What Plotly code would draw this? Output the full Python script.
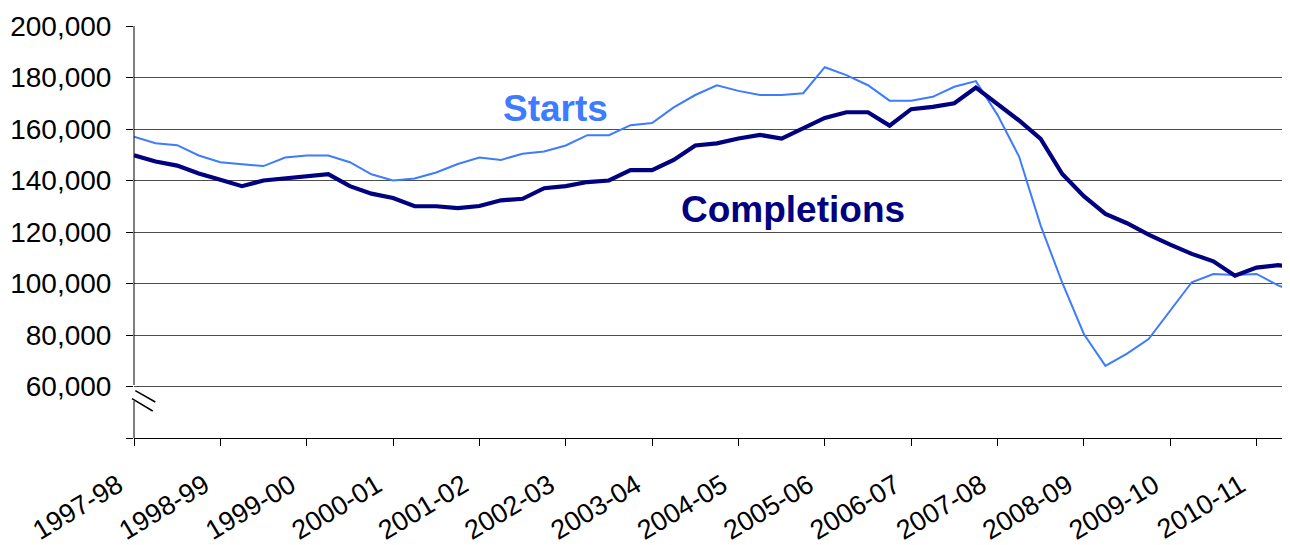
import plotly.graph_objects as go

years = ["1997-98", "1998-99", "1999-00", "2000-01", "2001-02", "2002-03", "2003-04",
         "2004-05", "2005-06", "2006-07", "2007-08", "2008-09", "2009-10", "2010-11", "2011-12"]
quarters = [f"{y} Q{q}" for y in years for q in range(1, 5)][:55]

starts = [157.0, 154.5, 153.7, 149.7, 147.1, 146.4, 145.6, 148.9, 149.7, 149.7,
          147.1, 142.4, 140.0, 140.8, 143.1, 146.4, 148.9, 148.0, 150.4, 151.3,
          153.6, 157.6, 157.6, 161.5, 162.3, 168.4, 173.2, 177.0, 174.8, 173.2,
          173.2, 173.9, 184.0, 180.9, 177.0, 171.0, 171.0, 172.5, 176.4, 178.6,
          165.5, 149.3, 122.5, 100.3, 80.4, 68.0, 72.8, 78.4, 89.4, 100.5,
          103.7, 103.3, 103.7, 99.3, 95.8]
completions = [149.8, 147.4, 145.8, 142.7, 140.3, 137.8, 140.0, 140.9, 141.7, 142.5,
               137.8, 134.9, 133.2, 130.0, 130.0, 129.3, 130.1, 132.3, 132.9, 137.0,
               137.8, 139.4, 140.0, 144.0, 144.0, 148.0, 153.6, 154.4, 156.3, 157.7,
               156.3, 160.3, 164.3, 166.5, 166.5, 161.3, 167.7, 168.6, 170.0, 176.1,
               169.8, 163.3, 156.2, 142.5, 133.9, 127.0, 123.4, 119.0, 115.1, 111.5,
               108.6, 103.0, 106.2, 107.1, 106.4]
starts = [v * 1000 for v in starts]
completions = [v * 1000 for v in completions]

y_ticks = [40000, 60000, 80000, 100000, 120000, 140000, 160000, 180000, 200000]
y_ticktext = ["", "60,000", "80,000", "100,000", "120,000", "140,000", "160,000", "180,000", "200,000"]
x_tickvals = [f"{y} Q1" for y in years[:14]]
x_ticktext = years[:14]

FONT = "Liberation Sans, Arial, sans-serif"
STARTS_C = "#3d7bff"
COMP_C = "#000080"

fig = go.Figure()
fig.add_trace(go.Scatter(x=quarters, y=starts, mode="lines", name="Starts",
                         line=dict(color=STARTS_C, width=2), showlegend=False))
fig.add_trace(go.Scatter(x=quarters, y=completions, mode="lines", name="Completions",
                         line=dict(color=COMP_C, width=4.2), showlegend=False))

# page has an 8px body margin: figure sized/offset to fill the 1290x545 window
fig.update_layout(
    width=1282, height=537,
    margin=dict(l=126, r=0, t=18, b=107),
    paper_bgcolor="white", plot_bgcolor="white",
    font=dict(family=FONT, color="black", size=28),
    xaxis=dict(type="category", range=[0, 53.55], tickmode="array",
               tickvals=x_tickvals, ticktext=x_ticktext, tickangle=-31,
               ticks="outside", ticklen=7, tickcolor="black", tickwidth=1,
               showline=True, linecolor="black", linewidth=1, showgrid=False,
               zeroline=False, automargin=False, ticklabelstandoff=13,
               ticklabelshift=-16,
               tickfont=dict(size=27, family=FONT, color="black")),
    yaxis=dict(range=[40000, 200000], tickmode="array", tickvals=y_ticks,
               ticktext=y_ticktext, ticks="outside", ticklen=7, tickcolor="black",
               tickwidth=1, showline=False, showgrid=True, gridcolor="#4d4d4d",
               gridwidth=1, zeroline=False, ticklabelstandoff=9, automargin=False,
               tickfont=dict(size=28, family=FONT, color="black")),
)

# Broken y axis line with break marks (positions given in window pixels)
def yp(px):
    return (438 - px) / 412

def xp(px):
    return (px - 134) / 1156

fig.add_shape(type="line", xref="paper", yref="paper", x0=0, x1=0, y0=0, y1=yp(401),
              line=dict(color="black", width=1))
fig.add_shape(type="line", xref="paper", yref="paper", x0=0, x1=0, y0=yp(385), y1=1,
              line=dict(color="black", width=1))
fig.add_shape(type="line", xref="paper", yref="paper", x0=xp(135.3), x1=xp(155.3),
              y0=yp(390.7), y1=yp(402), line=dict(color="black", width=1.5))
fig.add_shape(type="line", xref="paper", yref="paper", x0=xp(132), x1=xp(152.7),
              y0=yp(398.7), y1=yp(411), line=dict(color="black", width=1.5))

fig.add_annotation(text="<b>Starts</b>", xref="paper", yref="paper", x=xp(555), y=yp(108),
                   xanchor="center", yanchor="middle",
                   showarrow=False, font=dict(size=37, family=FONT, color=STARTS_C))
fig.add_annotation(text="<b>Completions</b>", xref="paper", yref="paper", x=xp(793), y=yp(209),
                   xanchor="center", yanchor="middle",
                   showarrow=False, font=dict(size=37, family=FONT, color=COMP_C))

fig.write_html("out.html")
